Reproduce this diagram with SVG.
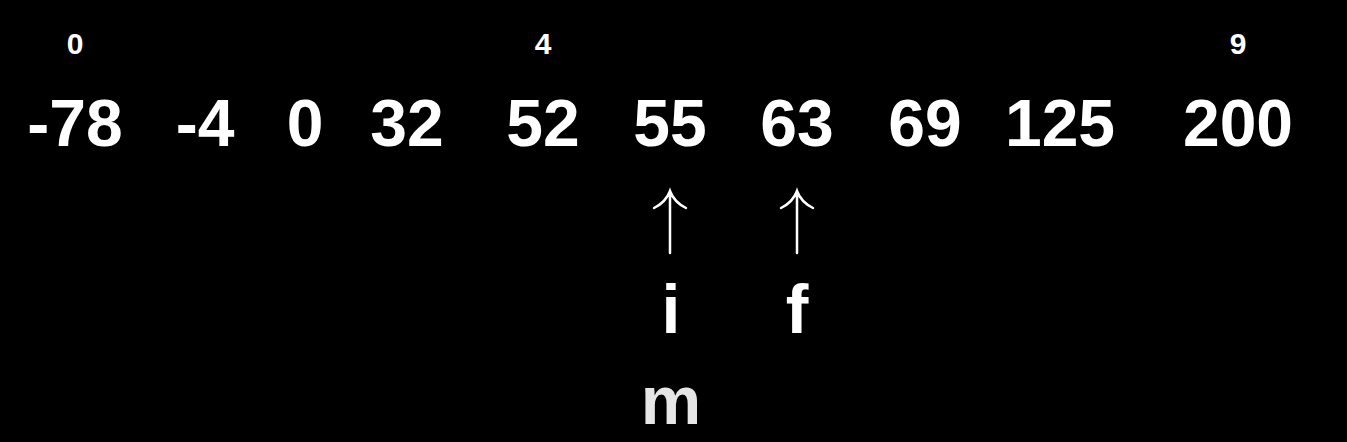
<svg xmlns="http://www.w3.org/2000/svg" width="1347" height="442" viewBox="0 0 1347 442">
<style>
.idx{font-family:"Liberation Sans",Arial,sans-serif;font-weight:bold;font-size:30px;fill:#fff;text-anchor:middle}
.val{font-family:"Liberation Sans",Arial,sans-serif;font-weight:bold;font-size:66px;fill:#fff;text-anchor:middle}
.ptr{font-family:"Liberation Sans",Arial,sans-serif;font-weight:bold;font-size:68px;fill:#fff;text-anchor:middle}
.arr{stroke:#fff;stroke-width:2.5;fill:none;stroke-linecap:round}
</style>
<rect width="1347" height="442" fill="#000"/>
<g id="indices">
<text class="idx" x="75" y="54">0</text>
<text class="idx" x="543" y="54">4</text>
<text class="idx" x="1238" y="54">9</text>
</g>
<g id="values">
<text class="val" x="75" y="146">-78</text>
<text class="val" x="205" y="146">-4</text>
<text class="val" x="305" y="146">0</text>
<text class="val" x="407" y="146">32</text>
<text class="val" x="543" y="146">52</text>
<text class="val" x="670" y="146">55</text>
<text class="val" x="797" y="146">63</text>
<text class="val" x="925" y="146">69</text>
<text class="val" x="1060" y="146">125</text>
<text class="val" x="1238" y="146">200</text>
</g>
<g id="connectors">
<path class="arr" d="M670,253 V191 M654,208 Q666,202 670,191 Q674,202 686,208"/>
<path class="arr" d="M797,253 V191 M781,208 Q793,202 797,191 Q801,202 813,208"/>
</g>
<g id="node-i"><text class="ptr" x="671" y="333">i</text></g>
<g id="node-f"><text class="ptr" x="797" y="333">f</text></g>
<g id="node-m"><text class="ptr" x="671" y="424" style="fill:#e6e6e6">m</text></g>
</svg>
